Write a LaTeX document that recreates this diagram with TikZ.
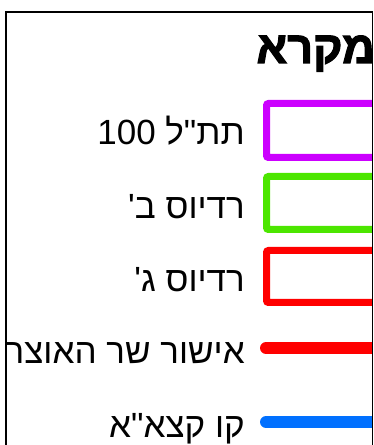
\documentclass[tikz,border=0pt]{standalone}
\usepackage{fontspec}
\TeXXeTstate=1
\newfontfamily\heb[Script=Hebrew]{Liberation Sans}
\newfontfamily\hebbold[Script=Hebrew,FakeBold=2.5]{Liberation Sans Bold}
\definecolor{cpurple}{RGB}{204,0,255}
\definecolor{cgreen}{RGB}{76,230,0}
\definecolor{cred}{RGB}{255,0,0}
\definecolor{cblue}{RGB}{0,112,255}
\tikzset{
  lbl/.style={anchor=base east, inner sep=0pt, font=\heb\fontsize{35}{40}\selectfont},
  ttl/.style={anchor=base east, inner sep=0pt, font=\hebbold\fontsize{45}{50}\selectfont},
  legbox/.style={line width=7pt, rounded corners=2pt},
  legline/.style={line width=12pt, line cap=round}
}
\begin{document}
\begin{tikzpicture}[x=1pt,y=1pt]
\useasboundingbox (0,0) rectangle (374,445);
\begin{scope}
\clip (6,0) rectangle (372,433);
\node[ttl] (title) at (375,382) {\beginR מקרא\endR};
% row 1
\draw[legbox, cpurple] (266.5,341.5) rectangle (420,287.5);
\node[lbl] (t1) at (245,300) {\beginR תת"ל \beginL 100\endL\endR};
% row 2
\draw[legbox, cgreen] (266.5,268.5) rectangle (420,215.5);
\node[lbl] (t2) at (245,226.5) {\beginR רדיוס ב'\endR};
% row 3
\draw[legbox, cred] (266.5,194.5) rectangle (420,142.5);
\node[lbl] (t3) at (245,153) {\beginR רדיוס ג'\endR};
% row 4
\coordinate (l4a) at (266,97);
\coordinate (l4b) at (420,97);
\draw[legline, cred] (l4a) -- (l4b);
\node[lbl] (t4) at (245,81) {\beginR אישור שר האוצר\endR};
% row 5
\coordinate (l5a) at (266,23);
\coordinate (l5b) at (420,23);
\draw[legline, cblue] (l5a) -- (l5b);
\node[lbl] (t5) at (245,8) {\beginR קו קצא"א\endR};
\end{scope}
\draw[line width=1.5pt] (6,-1) -- (6,433) -- (372.5,433) -- (372.5,-1);
\end{tikzpicture}
\end{document}
